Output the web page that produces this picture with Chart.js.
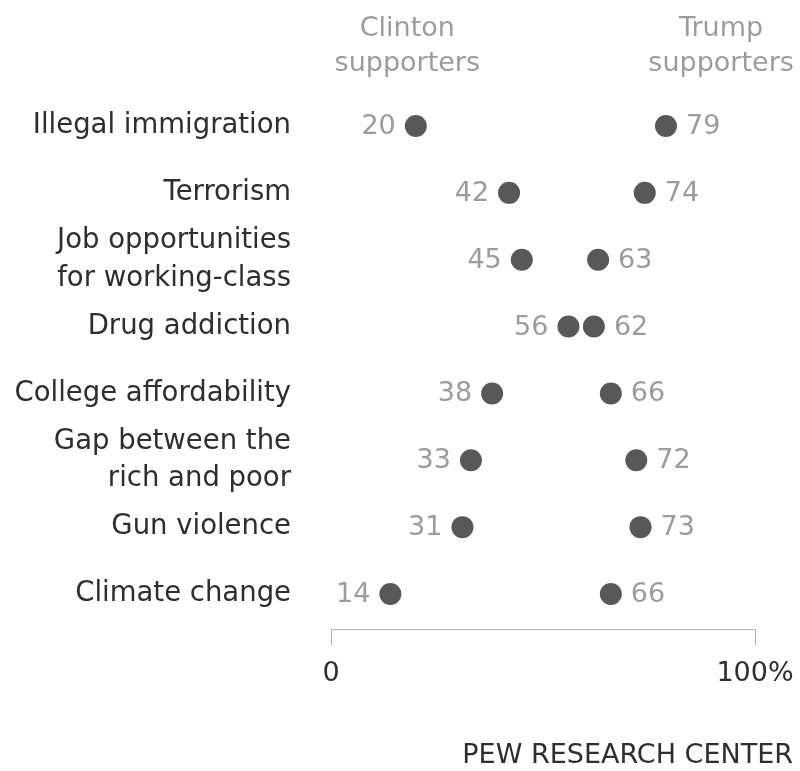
<!DOCTYPE html>
<html>
<head>
<meta charset="utf-8">
<script src="https://cdn.jsdelivr.net/npm/chart.js@4"></script>
<style>
  html, body { margin: 0; padding: 0; background: #fff; }
  #wrap { width: 800px; height: 771px; position: relative; }
</style>
</head>
<body>
<div id="wrap"><canvas id="c" width="800" height="771"></canvas></div>
<script>
const categories = [
  "Illegal immigration",
  "Terrorism",
  ["Job opportunities", "for working-class"],
  "Drug addiction",
  "College affordability",
  ["Gap between the", "rich and poor"],
  "Gun violence",
  "Climate change"
];
const clintonValues = [20, 42, 45, 56, 38, 33, 31, 14];
const trumpValues = [79, 74, 63, 62, 66, 72, 73, 66];
const seriesHeaders = [["Clinton", "supporters"], ["Trump", "supporters"]];
const headerAnchors = [18, 92];
const xTickValues = [0, 100];
const sourceNote = "PEW RESEARCH CENTER";

const FONT = "'DejaVu Sans', sans-serif";
const DOT = "#585858";
const VALUE_GRAY = "#9c9c9c";
const TEXT_DARK = "#2e2e2e";

const overlay = {
  id: 'overlay',
  afterDatasetsDraw(chart) {
    const ctx = chart.ctx;
    const xs = chart.scales.x;
    const area = chart.chartArea;
    ctx.save();
    // value labels
    ctx.font = "27px " + FONT;
    ctx.fillStyle = VALUE_GRAY;
    ctx.textBaseline = 'middle';
    chart.data.datasets.forEach((ds, di) => {
      const meta = chart.getDatasetMeta(di);
      meta.data.forEach((pt, i) => {
        const side = di === 0 ? -1 : 1;
        ctx.textAlign = di === 0 ? 'right' : 'left';
        ctx.fillText(String(ds.data[i]), pt.x + side * 20, pt.y + 1);
      });
    });
    // headers
    ctx.font = "27px " + FONT;
    ctx.fillStyle = VALUE_GRAY;
    ctx.textAlign = 'center';
    ctx.textBaseline = 'alphabetic';
    seriesHeaders.forEach((lines, i) => {
      const x = xs.getPixelForValue(headerAnchors[i]);
      lines.forEach((ln, j) => ctx.fillText(ln, x, 36 + j * 35));
    });
    // bracket axis
    const x0 = xs.getPixelForValue(xTickValues[0]);
    const x1 = xs.getPixelForValue(xTickValues[1]);
    const yb = area.bottom + 35;
    ctx.strokeStyle = "#b0b0b0";
    ctx.lineWidth = 1;
    ctx.beginPath();
    ctx.moveTo(x0 + 0.5, yb + 16);
    ctx.lineTo(x0 + 0.5, yb + 0.5);
    ctx.lineTo(x1 + 0.5, yb + 0.5);
    ctx.lineTo(x1 + 0.5, yb + 16);
    ctx.stroke();
    // source
    ctx.font = "27px " + FONT;
    ctx.fillStyle = TEXT_DARK;
    ctx.textAlign = 'right';
    ctx.textBaseline = 'middle';
    ctx.fillText(sourceNote, 793, 756);
    ctx.restore();
  }
};

new Chart(document.getElementById('c'), {
  type: 'line',
  data: {
    labels: categories,
    datasets: [
      { label: 'Clinton supporters', data: clintonValues, showLine: false,
        pointRadius: 11, pointBackgroundColor: DOT, pointBorderWidth: 0, clip: false },
      { label: 'Trump supporters', data: trumpValues, showLine: false,
        pointRadius: 11, pointBackgroundColor: DOT, pointBorderWidth: 0, clip: false }
    ]
  },
  options: {
    indexAxis: 'y',
    responsive: false,
    animation: false,
    devicePixelRatio: 1,
    layout: { padding: { top: 126, right: 45, left: 0, bottom: 0 } },
    plugins: { legend: { display: false }, tooltip: { enabled: false } },
    scales: {
      y: {
        type: 'category',
        offset: false,
        grid: { display: false, drawTicks: false },
        border: { display: false },
        ticks: { color: TEXT_DARK, font: { family: FONT, size: 27.5, lineHeight: 1.36 }, padding: 40, autoSkip: false },
        afterFit(s) { s.width = 331; s.paddingTop = 0; s.paddingBottom = 0; }
      },
      x: {
        type: 'linear',
        min: 0, max: 100,
        grid: { display: false, drawTicks: false },
        border: { display: false },
        afterBuildTicks(s) { s.ticks = xTickValues.map(v => ({ value: v })); },
        ticks: {
          color: TEXT_DARK, font: { family: FONT, size: 27 }, padding: 64, autoSkip: false, maxRotation: 0,
          callback: (v) => v === 100 ? '100%' : String(v)
        },
        afterFit(s) { s.height = 177; s.paddingLeft = 0; s.paddingRight = 0; }
      }
    }
  },
  plugins: [overlay]
});
</script>
</body>
</html>
